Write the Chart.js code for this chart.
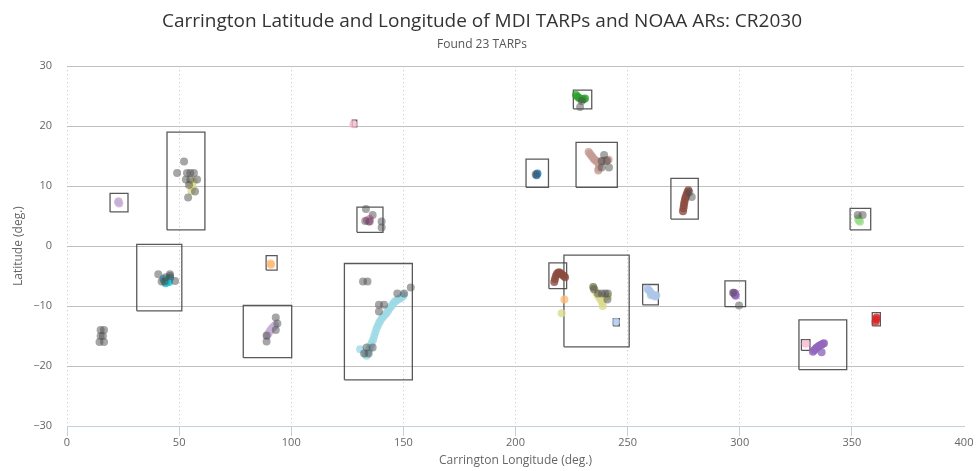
<!DOCTYPE html>
<html>
<head>
<meta charset="utf-8">
<script src="https://cdn.jsdelivr.net/npm/chart.js@4.4.0/dist/chart.umd.min.js"></script>
<style>
  html, body { margin: 0; padding: 0; background: #fff; }
</style>
</head>
<body>
<canvas id="chart" width="977" height="471"></canvas>
<script>
// axis ticks
const lonTicks = [0, 50, 100, 150, 200, 250, 300, 350, 400];
const latTicks = [-30, -20, -10, 0, 10, 20, 30];

// TARP bounding boxes: [lonMin, lonMax, latMin, latMax]
const boxes = [
  [19.2, 27.2, 5.7, 8.8],
  [44.6, 61.5, 2.7, 19],
  [31.1, 51.2, -10.8, 0.3],
  [88.8, 93.7, -4, -1.6],
  [78.6, 100.2, -18.6, -9.9],
  [123.7, 154, -22.3, -2.9],
  [127.2, 129.2, 19.9, 21],
  [129.3, 140.9, 2.3, 6.5],
  [225.8, 234, 22.9, 26],
  [204.7, 214.7, 9.8, 14.5],
  [227, 245.4, 9.8, 17.3],
  [214.9, 222.8, -7.1, -2.8],
  [221.6, 250.7, -16.8, -1.5],
  [243.6, 246.3, -13.3, -12.1],
  [256.7, 263.7, -9.8, -6.4],
  [269.3, 281.5, 4.5, 11.3],
  [293.4, 302.6, -10.1, -5.8],
  [349.2, 358.4, 2.7, 6.3],
  [359.1, 362.7, -13.3, -11.1],
  [326.4, 347.7, -20.6, -12.3],
  [327.5, 331.3, -17.4, -15.6]
];

// NOAA active regions [lon, lat]
const noaaARs = [
  [15, -14], [16.5, -14], [15, -15], [16, -15], [14.5, -16], [16.5, -16],
  [52.2, 14.1], [49.1, 12.2], [53.5, 12.2], [55, 12.2], [56.6, 12.2], [53, 11.1], [55, 11.1],
  [58, 11.1], [54.4, 10.2], [57.1, 9.1], [54, 8.1],
  [40.7, -4.7], [45.9, -4.7], [48.2, -5.8], [42.2, -5.9], [43.5, -5.9], [46, -5], [44, -5.2],
  [93.1, -11.9], [93.8, -12.9], [93.1, -14], [89, -14.9], [89, -15.9],
  [132, -5.9], [134, -5.9], [147.3, -7.9], [150.3, -7.9], [153.3, -6.9], [139.1, -9.8],
  [141.4, -9.8], [139.1, -10.9], [132.5, -17.9], [134.5, -17.9], [133.6, -16.9], [136.3, -16.9],
  [133.3, 6.2], [136.3, 5.2], [140.3, 4.1], [140.3, 3.1], [133, 4.2], [135, 4.1],
  [229.5, 24.2], [228.8, 23.2],
  [209, 12],
  [239.5, 15.2], [238.4, 14.2], [240.7, 14.2], [238.4, 13.1], [241.7, 13.1],
  [234.7, -6.8], [236.8, -7.9], [238.5, -7.9], [240, -7.9], [241.2, -7.9], [241, -8.9], [235, -7.2],
  [277.5, 9], [278.6, 8.2],
  [297, -7.8], [299.7, -9.9],
  [354.8, 5.2], [352.6, 5.2]
];

// MDI TARPs [lon, lat]
const tarp01 = [[23, 7.5], [23.3, 7.1], [22.8, 7.3]];
const tarp02 = [[55, 10.5], [56, 9.8], [55.5, 9.2], [56.5, 10.8]];
const tarp03 = [[43, -5.5], [44.5, -5.8], [46, -5.3], [45.5, -6], [44, -6.2]];
const tarp04 = [[90.8, -2.9], [91, -3.1]];
const tarp05 = [[89.2, -15], [89.8, -14.6], [90.4, -14.2], [91, -13.9], [91.6, -13.6], [92.2, -13.4], [92.8, -13.2]];
const tarp06 = [[130.7, -17.2], [133.2, -18], [133.6, -18.3], [134.2, -17.8], [134.8, -17.2], [135.3, -16.6],
  [135.9, -16.1], [136.5, -15.6], [137, -15], [137.5, -14.4], [138, -13.8], [138.6, -13.3], [139.2, -12.8],
  [139.8, -12.4], [140.5, -12], [141.2, -11.7], [141.9, -11.4], [142.6, -11.1], [143.3, -10.7], [144, -10.3],
  [144.7, -10], [145.4, -9.6], [146.1, -9.3], [146.8, -9.1], [147.5, -8.9], [148.2, -8.8], [148.9, -8.6],
  [149.6, -8.4], [150.1, -8.2]];
const tarp07 = [[127.7, 20.3]];
const tarp08 = [[133.8, 4.3], [134.6, 4.1], [135, 4.5]];
const tarp09 = [[227, 25.2], [227.7, 24.9], [228.4, 24.7], [229.5, 24.5], [230.3, 24.5], [231, 24.6]];
const tarp10 = [[209.4, 11.8], [209.8, 12.1]];
const tarp11 = [[232.6, 15.7], [233.2, 15.4], [233.8, 15.1], [234.4, 14.8], [235, 14.5], [235.6, 14.3],
  [236.2, 14.1], [236.8, 14], [237.4, 14], [238, 14], [238.6, 14.1], [239.2, 14.2], [240, 14.3],
  [240.8, 14.3], [241.5, 14.4], [237.4, 13.5], [237.1, 13], [236.9, 12.6]];
const tarp12 = [[217.3, -6], [217.6, -5.5], [218, -5], [218.5, -4.6], [219.1, -4.4], [219.7, -4.4],
  [220.3, -4.6], [221, -4.8], [221.6, -5], [222.1, -5.2]];
const tarp13 = [[234.6, -6.8], [235.3, -7.3], [236, -7.8], [236.7, -8.2], [237.4, -8.6], [238.1, -9],
  [238.7, -9.4], [238.9, -10], [239.5, -8.8], [240.3, -8.5], [241.2, -8.4]];
const tarp14 = [[221.8, -8.9]];
const tarp15 = [[220.6, -11.2]];
const tarp16 = [[244.8, -12.6]];
const tarp17 = [[258.8, -7.1], [259.4, -7.3], [260, -7.6], [260.6, -7.9], [261.2, -8.1], [261.8, -8.3],
  [262.4, -8.4], [262.8, -8.2], [260.4, -8.2]];
const tarp18 = [[274.7, 5.8], [274.9, 6.3], [275.1, 6.8], [275.3, 7.3], [275.6, 7.8], [275.9, 8.2],
  [276.3, 8.6], [276.7, 9], [277.1, 9.3]];
const tarp19 = [[297.4, -7.8], [297.8, -8.1], [298, -7.9], [298.2, -8.3]];
const tarp20 = [[352.9, 4.6], [353.6, 4.05], [353, 4.3]];
const tarp21 = [[360.8, -12.2], [360.6, -12.6], [361, -11.9]];
const tarp22 = [[329.4, -16.3]];
const tarp23 = [[332.6, -17.6], [333.1, -17.4], [333.6, -17.2], [334.1, -17], [334.6, -16.9], [335.1, -16.7],
  [335.6, -16.6], [336.1, -16.5], [336.6, -16.4], [337.1, -16.3], [337.6, -16.2], [336.5, -17.7]];

const tarps = [tarp01, tarp02, tarp03, tarp04, tarp05, tarp06, tarp07, tarp08, tarp09, tarp10, tarp11, tarp12,
  tarp13, tarp14, tarp15, tarp16, tarp17, tarp18, tarp19, tarp20, tarp21, tarp22, tarp23];
const tarpColors = ['#c5b0d5', '#dbdb8d', '#17becf', '#ffbb78', '#c5b0d5', '#9edae5', '#f7b6d2', '#e377c2',
  '#2ca02c', '#1f77b4', '#c49c94', '#8c4b40', '#dbdb8d', '#ffbb78', '#dbdb8d', '#aec7e8', '#aec7e8',
  '#8c4b40', '#9467bd', '#98df8a', '#d62728', '#f7b6d2', '#9467bd'];

const toXY = arr => arr.map(p => ({ x: p[0], y: p[1] }));
const FONT = "'Open Sans', 'Liberation Sans', Arial, sans-serif";

const datasets = [];
datasets.push({
  label: 'NOAA ARs',
  data: toXY(noaaARs),
  backgroundColor: 'rgba(77,77,77,0.5)',
  pointRadius: 4, borderWidth: 0, order: 0
});
tarps.forEach((t, i) => {
  datasets.push({
    label: 'TARP ' + (i + 1),
    data: toXY(t),
    backgroundColor: tarpColors[i] + 'cc',
    pointRadius: 4, borderWidth: 0, order: 1
  });
});
boxes.forEach((b, i) => {
  datasets.push({
    type: 'line',
    label: 'box ' + (i + 1),
    data: [{ x: b[0], y: b[2] }, { x: b[1], y: b[2] }, { x: b[1], y: b[3] }, { x: b[0], y: b[3] }, { x: b[0], y: b[2] }],
    borderColor: 'rgba(60,60,60,0.85)',
    borderWidth: 1.3,
    pointRadius: 0,
    fill: false,
    tension: 0,
    order: 2
  });
});

new Chart(document.getElementById('chart'), {
  type: 'scatter',
  data: { datasets },
  options: {
    responsive: false,
    animation: false,
    layout: { padding: { left: 0, right: 13, top: 0, bottom: 0 } },
    plugins: {
      legend: { display: false },
      tooltip: { enabled: false },
      title: {
        display: true,
        text: 'Carrington Latitude and Longitude of MDI TARPs and NOAA ARs: CR2030',
        color: '#333',
        font: { family: FONT, size: 19, weight: 'normal', lineHeight: 1.2 },
        padding: { top: 10, bottom: 5 }
      },
      subtitle: {
        display: true,
        text: 'Found 23 TARPs',
        color: '#555',
        font: { family: FONT, size: 12 },
        padding: { top: 0, bottom: 14 }
      }
    },
    scales: {
      x: {
        type: 'linear',
        min: lonTicks[0], max: lonTicks[lonTicks.length - 1],
        afterBuildTicks: s => { s.ticks = lonTicks.map(v => ({ value: v })); },
        afterFit: s => { s.height = 45; },
        ticks: { color: '#666', font: { family: FONT, size: 11 }, padding: 0, maxRotation: 0 },
        grid: {
          color: c => (c.tick && c.tick.value === 400) ? 'rgba(0,0,0,0)' : '#C0C0C0',
          tickColor: c => (c.tick && c.tick.value === 400) ? 'rgba(0,0,0,0)' : '#C0D0E0',
          tickLength: 10,
          tickBorderDash: []
        },
        border: { display: true, color: '#C0D0E0', width: 1, dash: [1, 3] },
        title: {
          display: true, text: 'Carrington Longitude (deg.)', color: '#666',
          font: { family: FONT, size: 12 }, padding: { top: 0, bottom: 3 }
        }
      },
      y: {
        type: 'linear',
        min: latTicks[0], max: latTicks[latTicks.length - 1],
        afterBuildTicks: s => { s.ticks = latTicks.map(v => ({ value: v })); },
        afterFit: s => { s.width = 67; },
        ticks: {
          color: '#666', font: { family: FONT, size: 11 }, padding: 15,
          callback: v => String(v).replace('-', '\u2212')
        },
        grid: {
          color: c => (c.tick && c.tick.value === -30) ? 'rgba(0,0,0,0)' : '#C0C0C0',
          drawTicks: false
        },
        border: { display: false },
        title: {
          display: true, text: 'Latitude (deg.)', color: '#666',
          font: { family: FONT, size: 12 }, padding: { top: 11, bottom: 0 }
        }
      }
    }
  }
});
</script>
</body>
</html>
